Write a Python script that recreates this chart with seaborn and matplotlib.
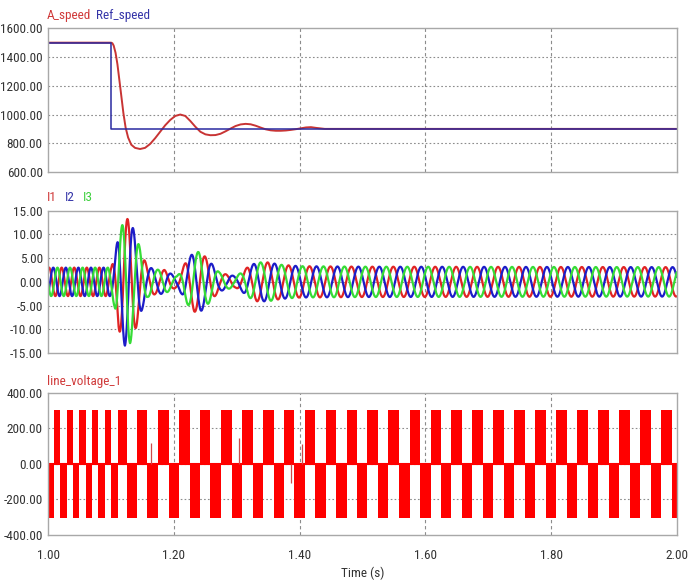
import numpy as np
import pandas as pd
import matplotlib
matplotlib.use("Agg")
import matplotlib.pyplot as plt
from matplotlib import font_manager as fm
import seaborn as sns

# ---------------- data ----------------
# Panel 1: speed (rpm)
speed_t = [1.000, 1.100, 1.102, 1.104, 1.107, 1.110, 1.1145, 1.1195, 1.123, 1.127,
           1.132, 1.138, 1.146, 1.154, 1.162, 1.170, 1.178, 1.186, 1.194, 1.202,
           1.210, 1.218, 1.226, 1.234, 1.242, 1.250, 1.258, 1.266, 1.274, 1.282,
           1.290, 1.298, 1.306, 1.314, 1.322, 1.330, 1.338, 1.346, 1.354, 1.362,
           1.370, 1.378, 1.386, 1.394, 1.402, 1.410, 1.418, 1.426, 1.440, 2.000]
speed_v = [1500, 1500, 1496, 1480, 1430, 1350, 1190, 1010, 910, 840,
           790, 768, 760, 768, 795, 835, 880, 925, 962, 990,
           1000, 990, 955, 915, 880, 862, 856, 857, 866, 883,
           902, 920, 931, 935, 932, 922, 909, 897, 890, 887,
           887, 889, 893, 898, 904, 910, 912, 907, 900, 900]
ref_t = [1.0, 1.1, 1.1, 2.0]
ref_v = [1500, 1500, 900, 900]

# Panel 2: three-phase currents, envelope and frequency
env_t = [1.000, 1.100, 1.105, 1.112, 1.122, 1.130, 1.140, 1.150, 1.158, 1.170,
         1.185, 1.198, 1.205, 1.212, 1.220, 1.232, 1.242, 1.252, 1.262, 1.272,
         1.285, 1.298, 1.308, 1.318, 1.332, 1.350, 1.370, 1.400, 1.500, 2.000]
env_a = [3.0, 3.0, 5.0, 10.0, 13.5, 13.0, 9.5, 5.5, 3.2, 2.6,
         2.5, 1.5, 1.2, 2.5, 4.5, 6.3, 6.3, 5.0, 3.5, 2.0,
         1.5, 1.2, 2.0, 3.2, 4.1, 4.1, 3.6, 3.3, 3.2, 3.1]
freq_t = [1.000, 1.100, 1.104, 1.130, 1.160, 1.200, 1.300, 2.000]
freq_hz = [50, 50, 42, 37, 33, 31, 30, 30]
i1_peak_time = 1.126

# Panel 3: line voltage square wave, rising edges (s)
rise_t = [1.0091, 1.0293, 1.0494, 1.0697, 1.0899, 1.1107, 1.1404, 1.1750, 1.2083,
          1.2412, 1.2749, 1.3084, 1.3420, 1.3748, 1.4078, 1.4414, 1.4748, 1.5078,
          1.5413, 1.5748, 1.6088, 1.6414, 1.6748, 1.7081, 1.7415, 1.7748, 1.8082,
          1.8415, 1.8749, 1.9082, 1.9416, 1.9758]
pulse_level = 305
spike_t = [1.163, 1.304, 1.387, 1.404]
spike_v = [115, 145, -110, 110]

x_ticks = [1.0, 1.2, 1.4, 1.6, 1.8, 2.0]

# ---------------- style ----------------
sns.set_theme(style="white")
installed = {f.name for f in fm.fontManager.ttflist}
narrow = [n for n in ["Liberation Sans Narrow", "Arial Narrow", "Roboto Condensed",
                      "Open Sans Condensed", "Noto Sans Condensed"] if n in installed]
if narrow:
    plt.rcParams["font.family"] = [narrow[0], "DejaVu Sans"]
    FS = 9.5
else:
    plt.rcParams["font.family"] = ["Liberation Sans", "DejaVu Sans"]
    FS = 8.5
TICK_COLOR = "#333333"

W, H = 697, 583
fig = plt.figure(figsize=(W / 100, H / 100), dpi=100)

def make_ax(top_px, bot_px):
    left, right = 48.3, 676.7
    return fig.add_axes([left / W, 1 - bot_px / H, (right - left) / W, (bot_px - top_px) / H])

ax1 = make_ax(28.3, 172.0)
ax2 = make_ax(210.7, 353.0)
ax3 = make_ax(392.7, 535.0)

def style_ax(ax, yticks, show_x):
    ax.set_xlim(1.0, 2.0)
    ax.set_ylim(yticks[0], yticks[-1])
    ax.set_yticks(yticks)
    ax.set_yticklabels(["%.2f" % v for v in yticks], fontsize=FS, color=TICK_COLOR)
    ax.set_xticks(x_ticks)
    if show_x:
        ax.set_xticklabels(["%.2f" % v for v in x_ticks], fontsize=FS, color=TICK_COLOR)
    else:
        ax.set_xticklabels([])
    ax.tick_params(axis="both", length=0)
    ax.tick_params(axis="y", pad=4)
    ax.tick_params(axis="x", pad=10)
    for s in ax.spines.values():
        s.set_color("#a8a8a8")
        s.set_linewidth(1.0)
    for yv in yticks[1:-1]:
        ax.axhline(yv, color="#8c8c8c", lw=0.8, dashes=(1.5, 2), zorder=0)
    for xv in x_ticks[1:-1]:
        ax.axvline(xv, color="#8c8c8c", lw=0.8, dashes=(3, 2.5), zorder=0)
    ax.set_xlabel("")
    ax.set_ylabel("")

# ---------------- panel 1 ----------------
df_speed = pd.DataFrame({"t": speed_t, "v": speed_v})
df_ref = pd.DataFrame({"t": ref_t, "v": ref_v})
sns.lineplot(data=df_speed, x="t", y="v", ax=ax1, color="#c83434", lw=1.4,
             estimator=None, sort=False)
sns.lineplot(data=df_ref, x="t", y="v", ax=ax1, color="#2a2aa0", lw=1.1,
             estimator=None, sort=False)
style_ax(ax1, [600, 800, 1000, 1200, 1400, 1600], False)

# ---------------- panel 2 ----------------
t = np.linspace(1.0, 2.0, 10001)
amp = np.interp(t, env_t, env_a)
f_inst = np.interp(t, freq_t, freq_hz)
phase = 2 * np.pi * np.concatenate([[0], np.cumsum((f_inst[1:] + f_inst[:-1]) / 2 * np.diff(t))])
phase += np.pi / 2 - np.interp(i1_peak_time, t, phase)
df_cur = pd.DataFrame({
    "t": np.tile(t, 3),
    "i": np.concatenate([amp * np.sin(phase),
                         amp * np.sin(phase - 2 * np.pi / 3),
                         amp * np.sin(phase + 2 * np.pi / 3)]),
    "phase": np.repeat(["I1", "I2", "I3"], len(t)),
})
sns.lineplot(data=df_cur, x="t", y="i", hue="phase", ax=ax2,
             palette={"I1": "#e02424", "I2": "#1c1cc8", "I3": "#36dc36"},
             lw=1.6, estimator=None, sort=False, legend=False)
style_ax(ax2, [-15, -10, -5, 0, 5, 10, 15], False)

# ---------------- panel 3 ----------------
rise = np.array(rise_t)
nxt = np.append(rise[1:], rise[-1] + (rise[-1] - rise[-2]))
fall = (rise + nxt) / 2
ax3.bar(rise, pulse_level, width=fall - rise, align="edge", color="#ff0000", lw=0)
neg_start = np.concatenate([[1.0], fall])
neg_end = np.concatenate([[rise[0]], np.minimum(nxt, 2.0)])
ax3.bar(neg_start, -pulse_level, width=neg_end - neg_start, align="edge", color="#ff0000", lw=0)
ax3.axhline(0, color="#ff0000", lw=1.5)
ax3.vlines(spike_t, 0, spike_v, color="#d04848", lw=0.9)
style_ax(ax3, [-400, -200, 0, 200, 400], True)

# ---------------- labels ----------------
def ftxt(x, y, s, c, **kw):
    fig.text(x / W, 1 - y / H, s, color=c, fontsize=FS, va="center", **kw)

ftxt(47, 15, "A_speed", "#d03a3a")
ftxt(96, 15, "Ref_speed", "#3434a8")
ftxt(47, 198, "I1", "#d03a3a")
ftxt(65, 198, "I2", "#3434a8")
ftxt(83, 198, "I3", "#3ccf3c")
ftxt(47, 382, "line_voltage_1", "#d03a3a")
ftxt(362.5, 573, "Time (s)", "#333333", ha="center")

fig.savefig("out.png", dpi=100)
